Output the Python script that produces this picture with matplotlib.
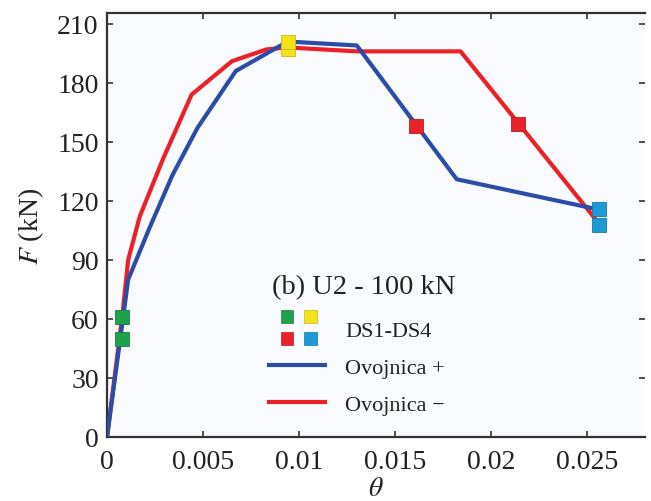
import matplotlib
matplotlib.use("Agg")
import matplotlib.pyplot as plt
from matplotlib.legend_handler import HandlerBase
from matplotlib.patches import Rectangle
from matplotlib.lines import Line2D

# ovojnica + (plava)
theta_pos = [0, 0.0008, 0.0011, 0.0022, 0.0034, 0.0047, 0.0067, 0.0094, 0.013, 0.0182, 0.0254]
F_pos = [0, 58, 80, 106, 133, 157, 186, 201, 199, 131, 116]
# ovojnica - (crvena)
theta_neg = [0, 0.0008, 0.0011, 0.0017, 0.0029, 0.0044, 0.0065, 0.0083, 0.0094, 0.013, 0.0184, 0.0254]
F_neg = [0, 62, 90, 112, 141, 174, 191, 197, 198, 196, 196, 111]
# stanja ostecenja DS1-DS4
ds1_theta = [0.0008, 0.0008]
ds1_F = [50, 61]
ds2_theta = [0.0094, 0.0094]
ds2_F = [197, 201]
ds3_theta = [0.0161, 0.0214]
ds3_F = [158, 159]
ds4_theta = [0.0256, 0.0256]
ds4_F = [116, 108]

x_ticks = [0, 0.005, 0.01, 0.015, 0.02, 0.025]
x_labels = ["0", "0.005", "0.01", "0.015", "0.02", "0.025"]
y_ticks = [0, 30, 60, 90, 120, 150, 180, 210]

blue = "#2c4ca8"
red = "#ec2127"
ds_colors = ["#1fa04a", "#f1e21c", "#e8232a", "#1b9ad6"]
ds_edges = ["#17803a", "#c9bb10", "#b81b20", "#1479aa"]
txt = "#222222"

plt.rcParams["font.family"] = ["Liberation Serif", "DejaVu Serif"]
plt.rcParams["mathtext.fontset"] = "stix"
plt.rcParams["text.color"] = txt
plt.rcParams["axes.labelcolor"] = txt


class HandlerSquares(HandlerBase):
    # 2x2 kvadratici za legendu
    def create_artists(self, legend, orig_handle, xdescent, ydescent,
                       width, height, fontsize, trans):
        s = 9.2
        cx = [13.3 - xdescent, 30.2 - xdescent]
        cy = [height / 2 + 7.9 - ydescent, height / 2 - 7.9 - ydescent]
        arts = []
        for i, c in enumerate(ds_colors):
            r, k = divmod(i, 2)
            arts.append(Rectangle((cx[k] - s / 2, cy[r] - s / 2), s, s,
                                  facecolor=c, edgecolor=ds_edges[i], lw=0.5,
                                  transform=trans))
        return arts


fig = plt.figure(figsize=(6.51, 5.02), dpi=100)
ax = fig.add_axes([0.1644, 0.1275, 0.8264, 0.8446])
ax.set_facecolor("#f9fbfe")

ax.plot(theta_pos, F_pos, color=blue, lw=3, zorder=3)
ax.plot(theta_neg, F_neg, color=red, lw=3, zorder=2)

for th, ff, c, e in zip([ds1_theta, ds2_theta, ds3_theta, ds4_theta],
                        [ds1_F, ds2_F, ds3_F, ds4_F], ds_colors, ds_edges):
    ax.plot(th, ff, ls="none", marker="s", ms=9.5, mfc=c, mec=e, mew=0.6, zorder=4)

ax.set_xlim(0, 0.028)
ax.set_ylim(0, 215.5)
ax.set_xticks(x_ticks)
ax.set_xticklabels(x_labels)
ax.set_yticks(y_ticks)
ax.tick_params(direction="in", length=4.5, width=1.2, labelsize=20,
               top=True, right=True, color="#333333", labelcolor=txt)
ax.tick_params(axis="y", pad=6)
ax.tick_params(axis="x", pad=9)
for sp in ["left", "bottom", "top"]:
    ax.spines[sp].set_linewidth(1.6)
    ax.spines[sp].set_color("#333333")
ax.spines["right"].set_visible(False)

ax.set_xlabel(r"$\theta$", fontsize=20, labelpad=1)
ax.set_ylabel(r"$F$ (kN)", fontsize=20, labelpad=8)

# naslov legende
ax.text(0.3067, 0.3538, "(b) U2 - 100 kN", transform=ax.transAxes,
        fontsize=20.5, ha="left", va="center")

ds_handle = Rectangle((0, 0), 1, 1)
h_pos = Line2D([], [], color=blue, lw=3)
h_neg = Line2D([], [], color=red, lw=3)
leg = ax.legend([ds_handle, h_pos, h_neg], ["DS1-DS4", "Ovojnica +", "Ovojnica \u2212"],
                handler_map={ds_handle: HandlerSquares()},
                fontsize=16, frameon=False, handlelength=2.55,
                handletextpad=0.9, labelspacing=0.75,
                loc="upper left", bbox_to_anchor=(0.2632, 0.323))

fig.savefig("out.png", dpi=100)
